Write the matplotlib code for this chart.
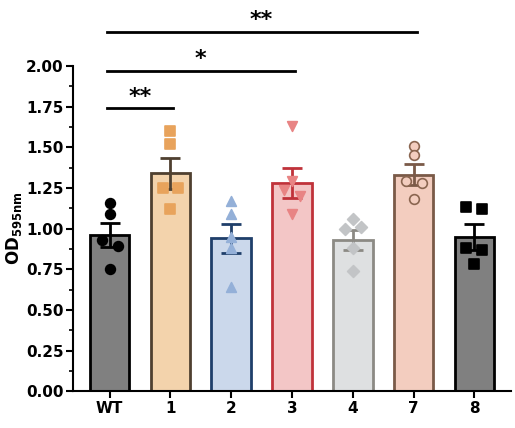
import matplotlib
matplotlib.use("Agg")
import matplotlib.pyplot as plt
import numpy as np

groups = ["WT", "1", "2", "3", "4", "7", "8"]
means = [0.96, 1.34, 0.94, 1.28, 0.93, 1.33, 0.95]
sems = [0.075, 0.095, 0.09, 0.09, 0.06, 0.065, 0.08]
points = [
    [1.16, 1.09, 0.93, 0.89, 0.75],
    [1.60, 1.52, 1.25, 1.25, 1.12],
    [1.17, 1.09, 0.95, 0.88, 0.64],
    [1.63, 1.29, 1.24, 1.20, 1.09],
    [1.06, 1.00, 1.01, 0.88, 0.74],
    [1.51, 1.45, 1.29, 1.28, 1.18],
    [1.13, 1.12, 0.88, 0.87, 0.78],
]
offsets = [
    [0, 0, -0.13, 0.13, 0],
    [0, 0, -0.13, 0.13, 0],
    [0, 0, 0, 0, 0],
    [0, 0, -0.13, 0.13, 0],
    [0, -0.13, 0.13, 0, 0],
    [0, 0, -0.13, 0.13, 0],
    [-0.13, 0.13, -0.13, 0.13, 0],
]
fills = ["#808080", "#F3D3AC", "#CBD8EB", "#F3C6C6", "#DEE0E1", "#F3CDBF", "#808080"]
edges = ["#000000", "#4F4030", "#1F3F6A", "#C0323A", "#8C8A84", "#7A5A48", "#000000"]
pcol = ["#000000", "#E8A35C", "#94B0D8", "#E88484", "#C2C4C6", "#F3CDBF", "#000000"]
pedge = ["#000000", "#E8A35C", "#94B0D8", "#E88484", "#C2C4C6", "#8A6550", "#000000"]
markers = ["o", "s", "^", "v", "D", "o", "s"]
sig = [(0, 1, 1.74, "**"), (0, 3, 1.97, "*"), (0, 5, 2.21, "**")]

fig = plt.figure(figsize=(5.15, 4.28), dpi=100)
ax = fig.add_axes([0.142, 0.086, 0.85, 0.76])
x = np.arange(len(groups))
for i in x:
    ax.bar(i, means[i], width=0.65, color=fills[i], edgecolor=edges[i], linewidth=2, zorder=1)
    ax.errorbar(i, means[i], yerr=sems[i], color=edges[i], capsize=7, capthick=2, elinewidth=2, zorder=2)
    ms = 6 if markers[i] == "D" else 7
    ax.scatter(i + np.array(offsets[i]), points[i], marker=markers[i], s=ms**2, color=pcol[i],
               edgecolors=pedge[i], linewidths=1.2, zorder=3)
for a, b, y, s in sig:
    ax.plot([a - 0.05, b + 0.05], [y, y], color="black", lw=2, clip_on=False)
    ax.text((a + b) / 2, y + 0.01, s, ha="center", va="bottom", fontsize=16, fontweight="bold")
ax.set_ylim(0, 2.0)
ax.set_xlim(-0.6, 6.6)
ax.set_yticks(np.arange(0, 2.01, 0.25))
ax.set_yticks(np.arange(0, 2.01, 0.125), minor=True)
ax.set_xticks(x)
ax.set_xticklabels(groups, fontweight="bold", fontsize=11)
for t in ax.get_yticklabels():
    t.set_fontweight("bold")
    t.set_fontsize(11)
ax.set_ylabel(r"OD$_{\mathbf{595nm}}$", fontweight="bold", fontsize=12, labelpad=1)
for sp in ["top", "right"]:
    ax.spines[sp].set_visible(False)
for sp in ["left", "bottom"]:
    ax.spines[sp].set_linewidth(1.5)
ax.tick_params(width=1.5, length=5, pad=2)
ax.tick_params(which="minor", width=1.2, length=3)
fig.savefig("out.png", dpi=100)
